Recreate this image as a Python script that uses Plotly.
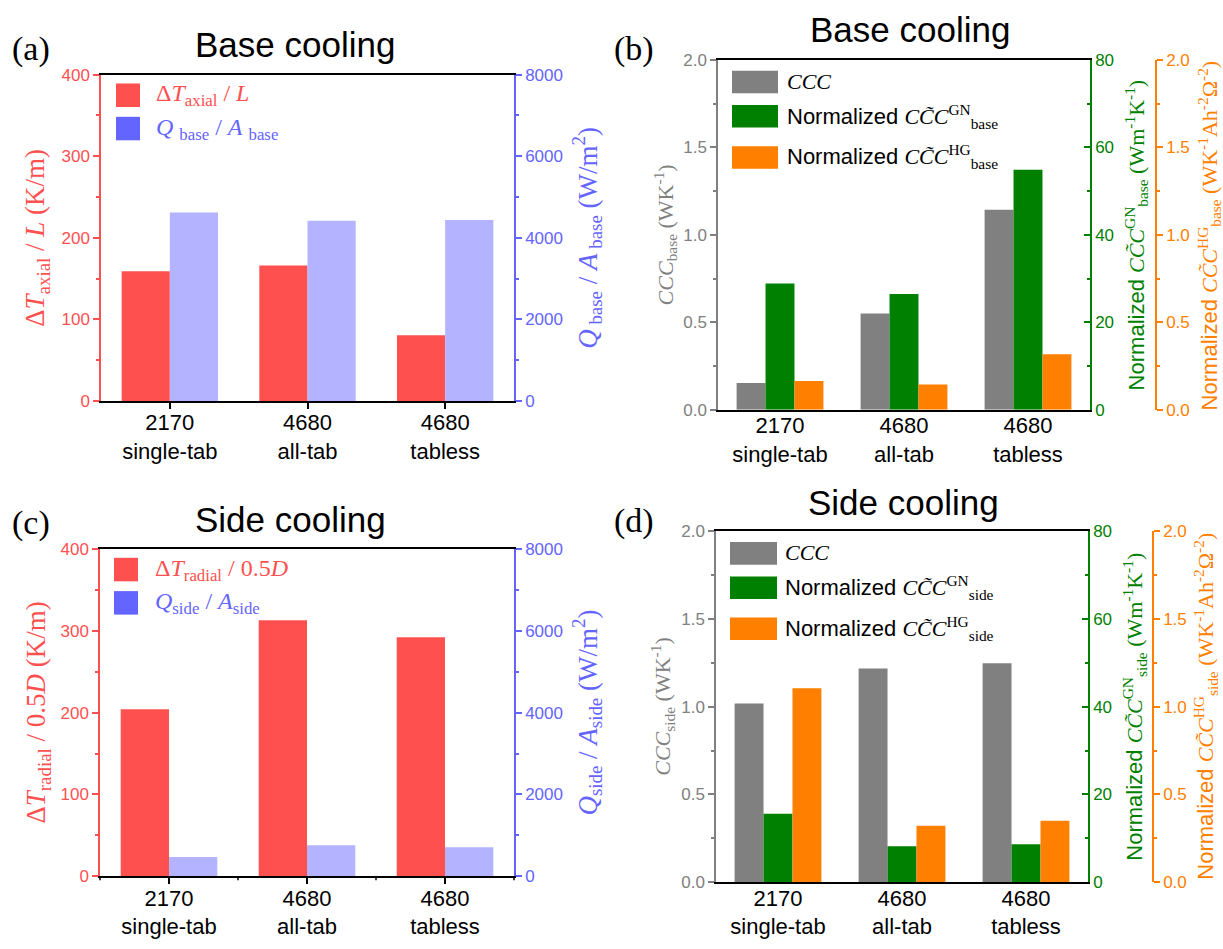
import plotly.graph_objects as go

W, H = 1223, 949

# ---------------- data ----------------
cell_formats = ["2170", "4680", "4680"]
tab_designs = ["single-tab", "all-tab", "tabless"]
categories = [f"{c}<br>{t}" for c, t in zip(cell_formats, tab_designs)]

# (a) base cooling: axial temperature gradient (K/m) and base heat flux (W/m2)
axial_gradient = [159, 166, 80.5]
base_heat_flux = [4620, 4420, 4437]

# (b) base cooling: cell cooling coefficients
ccc_base = [0.153, 0.550, 1.143]        # W/K
ccc_gn_base = [28.9, 26.5, 54.9]        # W/(m K)
ccc_hg_base = [0.164, 0.145, 0.317]     # W/(K Ah^2 Ohm^2)

# (c) side cooling: radial temperature gradient (K/m) and side heat flux (W/m2)
radial_gradient = [204, 313, 292]
side_heat_flux = [471, 758, 710]

# (d) side cooling: cell cooling coefficients
ccc_side = [1.019, 1.218, 1.248]
ccc_gn_side = [15.6, 8.2, 8.65]
ccc_hg_side = [1.106, 0.322, 0.350]

# ---------------- styling ----------------
RED = "#FF5050"
BLUE = "#6464FF"
BLUE_LIGHT = "#B3B3FF"
GRAY = "#808080"
GREEN = "#008000"
ORANGE = "#FF8000"
SANS = "Liberation Sans, Arial, sans-serif"
SERIF = "Liberation Serif, Times New Roman, serif"


def fx(px):
    return px / W


def fy(py):
    return 1 - py / H


def sans(t):
    return f'<span style="font-family:Liberation Sans">{t}</span>'


CTC = "<i>CC\u0303C</i>"

fig = go.Figure()


def add_bar(values, color, xa, ya, offset, width):
    fig.add_trace(go.Bar(
        x=categories, y=values, xaxis=xa, yaxis=ya,
        marker=dict(color=color, line=dict(width=0)),
        offset=offset, width=width, showlegend=False,
    ))


# two-series panels
add_bar(axial_gradient, RED, "x", "y", -0.35, 0.35)
add_bar(base_heat_flux, BLUE_LIGHT, "x", "y2", 0.0, 0.35)
add_bar(radial_gradient, RED, "x3", "y6", -0.35, 0.35)
add_bar(side_heat_flux, BLUE_LIGHT, "x3", "y7", 0.0, 0.35)

# three-series panels
bw = 0.7 / 3
add_bar(ccc_base, GRAY, "x2", "y3", -0.35, bw)
add_bar(ccc_gn_base, GREEN, "x2", "y4", -0.35 + bw, bw)
add_bar(ccc_hg_base, ORANGE, "x2", "y5", -0.35 + 2 * bw, bw)
add_bar(ccc_side, GRAY, "x4", "y8", -0.35, bw)
add_bar(ccc_gn_side, GREEN, "x4", "y9", -0.35 + bw, bw)
add_bar(ccc_hg_side, ORANGE, "x4", "y10", -0.35 + 2 * bw, bw)


def xaxis(domain, anchor, ticks):
    return dict(
        domain=[fx(domain[0]), fx(domain[1])], anchor=anchor,
        type="category", categoryorder="array", categoryarray=categories,
        range=[-0.5, 2.5], showline=True, linecolor="black", linewidth=2,
        mirror=True, ticks=ticks, ticklen=6, tickwidth=2, tickcolor="black",
        tickfont=dict(family=SANS, size=22, color="black"),
        ticklabelstandoff=-5,
        showgrid=False, zeroline=False, fixedrange=True,
    )


def yaxis(color, rng, dtick, minor_dtick, fmt, ticks="outside", **kw):
    d = dict(
        range=rng, tickmode="linear", tick0=0, dtick=dtick,
        showline=True, linecolor=color, linewidth=1.5,
        ticks=ticks, ticklen=6, tickwidth=1.5, tickcolor=color,
        tickfont=dict(family=SANS, size=17, color=color),
        minor=dict(ticks=ticks, ticklen=3, tickwidth=1.5, tickcolor=color,
                   dtick=minor_dtick, tick0=0, showgrid=False),
        tickformat=fmt, showgrid=False, zeroline=False, fixedrange=True,
    )
    d.update(kw)
    return d


layout = dict(
    width=W, height=H, autosize=False,
    margin=dict(l=0, r=0, t=0, b=0),
    paper_bgcolor="white", plot_bgcolor="rgba(0,0,0,0)",
    barmode="overlay", showlegend=False,
    font=dict(family=SANS, color="black"),
)

# panel (a)
layout["xaxis"] = xaxis((101, 514), "y", "outside")
layout["yaxis"] = yaxis(RED, [0, 400], 100, 50, "d",
                        domain=[fy(400), fy(67)], anchor="x")
layout["yaxis2"] = yaxis(BLUE, [0, 8000], 2000, 1000, "d",
                         overlaying="y", side="right", anchor="x")
# panel (b)
layout["xaxis2"] = xaxis((718, 1090), "y3", "")
layout["yaxis3"] = yaxis(GRAY, [0, 2], 0.5, 0.25, ".1f",
                         domain=[fy(409), fy(52)], anchor="x2")
layout["yaxis4"] = yaxis(GREEN, [0, 80], 20, 10, "d", ticks="inside",
                         overlaying="y3", side="right", anchor="x2")
layout["yaxis5"] = yaxis(ORANGE, [0, 2], 0.5, 0.25, ".1f",
                         overlaying="y3", side="right", anchor="free",
                         position=fx(1156))
# panel (c)
layout["xaxis3"] = xaxis((100, 514), "y6", "outside")
layout["yaxis6"] = yaxis(RED, [0, 400], 100, 50, "d",
                         domain=[fy(885), fy(551)], anchor="x3")
layout["yaxis7"] = yaxis(BLUE, [0, 8000], 2000, 1000, "d",
                         overlaying="y6", side="right", anchor="x3")
# panel (d)
layout["xaxis4"] = xaxis((716, 1088), "y8", "")
layout["yaxis8"] = yaxis(GRAY, [0, 2], 0.5, 0.25, ".1f",
                         domain=[fy(891), fy(533)], anchor="x4")
layout["yaxis9"] = yaxis(GREEN, [0, 80], 20, 10, "d", ticks="inside",
                         overlaying="y8", side="right", anchor="x4")
layout["yaxis10"] = yaxis(ORANGE, [0, 2], 0.5, 0.25, ".1f",
                          overlaying="y8", side="right", anchor="free",
                          position=fx(1153))

fig.update_layout(layout)

annotations = []
shapes = []


def text(x, y, s, size, color="black", family=SERIF, angle=0,
         xanchor="center", yanchor="middle"):
    annotations.append(dict(
        x=fx(x), y=fy(y), xref="paper", yref="paper", text=s,
        showarrow=False, textangle=angle, xanchor=xanchor, yanchor=yanchor,
        font=dict(family=family, size=size, color=color),
    ))


def swatch(x0, x1, y0, y1, color):
    shapes.append(dict(
        type="rect", xref="paper", yref="paper",
        x0=fx(x0), x1=fx(x1), y0=fy(y1), y1=fy(y0),
        fillcolor=color, line=dict(width=0),
    ))


# panel labels and titles
text(10, 41, "(a)", 34, xanchor="left")
text(612, 41, "(b)", 34, xanchor="left")
text(10, 524, "(c)", 34, xanchor="left")
text(612, 522, "(d)", 34, xanchor="left")
text(295, 36, "Base cooling", 35, family=SANS)
text(910, 21, "Base cooling", 35, family=SANS)
text(290, 521, "Side cooling", 35, family=SANS)
text(903, 504, "Side cooling", 35, family=SANS)

# axis titles (a)
text(37, 233.5, "\u0394<i>T</i><sub>axial</sub> / <i>L</i> (K/m)", 27, RED, angle=-90)
text(587, 233.5, "<i>Q</i><sub> base</sub> / <i>A</i><sub> base</sub> (W/m<sup>2</sup>)",
     27, BLUE, angle=-90)
# axis titles (c)
text(38, 718, "\u0394<i>T</i><sub>radial</sub> / 0.5<i>D</i> (K/m)", 27, RED, angle=-90)
text(587, 718, "<i>Q</i><sub>side</sub> / <i>A</i><sub>side</sub> (W/m<sup>2</sup>)",
     27, BLUE, angle=-90)
# axis titles (b)
text(665, 231, "<i>CCC</i><sub>base</sub> (WK<sup>-1</sup>)", 22, GRAY, angle=-90)
text(1136, 231, sans("Normalized ") + CTC + "<sup>GN</sup><sub>base</sub> (Wm<sup>-1</sup>K<sup>-1</sup>)",
     22, GREEN, angle=-90)
text(1209, 231, sans("Normalized ") + CTC + "<sup>HG</sup><sub>base</sub> (WK<sup>-1</sup>Ah<sup>-2</sup>\u03a9<sup>-2</sup>)",
     22, ORANGE, angle=-90)
# axis titles (d)
text(663, 712, "<i>CCC</i><sub>side</sub> (WK<sup>-1</sup>)", 22, GRAY, angle=-90)
text(1135, 712, sans("Normalized ") + CTC + "<sup>GN</sup><sub>side</sub> (Wm<sup>-1</sup>K<sup>-1</sup>)",
     22, GREEN, angle=-90)
text(1206, 712, sans("Normalized ") + CTC + "<sup>HG</sup><sub>side</sub> (WK<sup>-1</sup>Ah<sup>-2</sup>\u03a9<sup>-2</sup>)",
     22, ORANGE, angle=-90)

# legends (a)
swatch(116, 140, 76, 100, RED)
swatch(116, 140, 110, 134, BLUE)
text(154, 88, "\u0394<i>T</i><sub>axial</sub> / <i>L</i>", 24, RED, xanchor="left")
text(154, 122, "<i>Q</i> <sub>base</sub> / <i>A</i> <sub>base</sub>", 24, BLUE, xanchor="left")
# legends (c)
swatch(114, 138, 560, 584, RED)
swatch(114, 138, 594, 618, BLUE)
text(153, 572, "\u0394<i>T</i><sub>radial</sub> / 0.5<i>D</i>", 24, RED, xanchor="left")
text(153, 606, "<i>Q</i><sub>side</sub> / <i>A</i><sub>side</sub>", 24, BLUE, xanchor="left")
# legends (b)
swatch(732, 778, 63, 86, GRAY)
swatch(732, 778, 98, 121, GREEN)
swatch(732, 778, 140, 163, ORANGE)
text(785, 74, "<i>CCC</i>", 22, xanchor="left")
text(785, 110, sans("Normalized ") + CTC + "<sup>GN</sup><sub>base</sub>", 22, xanchor="left")
text(785, 151, sans("Normalized ") + CTC + "<sup>HG</sup><sub>base</sub>", 22, xanchor="left")
# legends (d)
swatch(730, 777, 544, 567, GRAY)
swatch(730, 777, 579, 602, GREEN)
swatch(730, 777, 621, 644, ORANGE)
text(783, 555, "<i>CCC</i>", 22, xanchor="left")
text(783, 590, sans("Normalized ") + CTC + "<sup>GN</sup><sub>side</sub>", 22, xanchor="left")
text(783, 632, sans("Normalized ") + CTC + "<sup>HG</sup><sub>side</sub>", 22, xanchor="left")

# boundary ticks between categories in panel (c)
for k in range(4):
    shapes.append(dict(
        type="line", xref="x3 domain", yref="y6 domain",
        x0=k / 3, x1=k / 3, y0=0, y1=-4 / 334,
        line=dict(color="black", width=1.5),
    ))

fig.update_layout(annotations=annotations, shapes=shapes)
fig.write_html("out.html")
